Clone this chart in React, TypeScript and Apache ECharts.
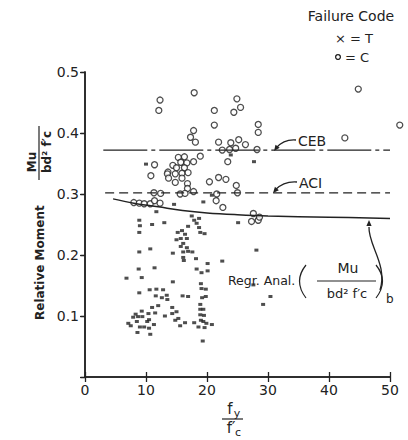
import React, { useEffect, useRef } from "react";
import * as echarts from "echarts";

// ---- data ----
const xTickValues = [0, 10, 20, 30, 40, 50];
const yTickLabels = ["0.1", "0.2", "0.3", "0.4", "0.5"];

// tension failures (T, small crosses)
const tensionPoints: [number, number][] = [
  [10.0, 0.349], [23.9, 0.364], [27.7, 0.353],
  [6.8, 0.162], [8.9, 0.257], [9.0, 0.248], [8.9, 0.237], [8.9, 0.205], [8.8, 0.177], [9.3, 0.163], [8.9, 0.138],
  [10.7, 0.210], [11.0, 0.250], [11.4, 0.179], [11.7, 0.271], [13.0, 0.253], [14.6, 0.283], [14.4, 0.203], [14.4, 0.156],
  [10.6, 0.143], [11.7, 0.144], [12.8, 0.143], [11.6, 0.133], [12.6, 0.130], [13.4, 0.134], [13.5, 0.127],
  [16.0, 0.133], [16.9, 0.132],
  [15.2, 0.237], [15.9, 0.240], [16.4, 0.234], [15.0, 0.225], [15.7, 0.227], [16.7, 0.227], [16.1, 0.219], [15.7, 0.214],
  [16.7, 0.212], [16.1, 0.205], [16.9, 0.206], [17.6, 0.205], [16.1, 0.196], [16.2, 0.191], [16.9, 0.247], [18.2, 0.194],
  [17.5, 0.264], [17.9, 0.257], [18.3, 0.252], [18.7, 0.260], [18.7, 0.245], [18.9, 0.237], [19.6, 0.235],
  [20.1, 0.186], [20.1, 0.174], [19.1, 0.171], [18.3, 0.177],
  [19.0, 0.153], [19.8, 0.144], [19.1, 0.145], [19.2, 0.130], [19.8, 0.132], [18.9, 0.119], [18.9, 0.111], [19.4, 0.111],
  [18.9, 0.102], [19.5, 0.101], [19.0, 0.093], [17.9, 0.089], [19.4, 0.091], [19.9, 0.088], [20.8, 0.086],
  [18.6, 0.082], [19.6, 0.081], [19.3, 0.059],
  [22.5, 0.190], [25.1, 0.253], [28.1, 0.208], [29.2, 0.119], [30.4, 0.132], [27.6, 0.151], [19.4, 0.287], [20.8, 0.298],
  [7.1, 0.088], [7.5, 0.084], [7.9, 0.098], [8.3, 0.103], [8.5, 0.091], [8.6, 0.073], [8.7, 0.099], [9.0, 0.082],
  [9.3, 0.108], [9.4, 0.099], [9.7, 0.082], [10.2, 0.091], [10.4, 0.104], [10.5, 0.094], [10.5, 0.080], [10.7, 0.070],
  [11.3, 0.086], [11.5, 0.105], [11.0, 0.114], [12.0, 0.117], [13.1, 0.100], [14.3, 0.114], [14.3, 0.104],
  [15.0, 0.107], [14.8, 0.093], [15.3, 0.096], [15.6, 0.084], [16.4, 0.089],
];

// compression failures (C, open circles)
const compressionPoints: [number, number][] = [
  [12.3, 0.454], [12.1, 0.437], [17.9, 0.466], [21.2, 0.437], [24.9, 0.456], [25.5, 0.442], [24.4, 0.434],
  [21.2, 0.413], [28.4, 0.414], [28.4, 0.401], [17.8, 0.404], [17.3, 0.393], [18.1, 0.385], [21.9, 0.385],
  [23.9, 0.384], [25.2, 0.389], [26.3, 0.381], [22.5, 0.372], [23.7, 0.373], [24.7, 0.375], [28.2, 0.373],
  [23.4, 0.353], [18.9, 0.362], [17.8, 0.353], [15.3, 0.360], [16.3, 0.361], [15.7, 0.352], [16.7, 0.351],
  [11.4, 0.348], [14.4, 0.347], [10.8, 0.330], [13.6, 0.336], [15.0, 0.343], [16.3, 0.343],
  [13.5, 0.333], [14.8, 0.333], [15.9, 0.334], [16.9, 0.335], [13.7, 0.326], [14.8, 0.319], [15.9, 0.326],
  [16.8, 0.317], [16.8, 0.309], [15.6, 0.300], [16.4, 0.301], [17.8, 0.304], [20.4, 0.320], [21.9, 0.327],
  [23.1, 0.324], [24.8, 0.314], [25.0, 0.302], [21.6, 0.300], [21.5, 0.289], [22.6, 0.278],
  [11.3, 0.302], [12.4, 0.301], [8.0, 0.286], [8.9, 0.285], [9.7, 0.284], [10.7, 0.284], [11.4, 0.289], [12.3, 0.285],
  [27.6, 0.268], [28.4, 0.257], [27.3, 0.255], [28.6, 0.262],
  [44.8, 0.472], [42.6, 0.392], [51.6, 0.413],
];

const cebLine: [number, number][] = [[3.0, 0.372], [50, 0.372]];
const aciLine: [number, number][] = [[3.3, 0.302], [50, 0.302]];
const regressionCurve: [number, number][] = [
  [4.6, 0.292], [8, 0.285], [12, 0.279], [16, 0.273], [20, 0.269], [25, 0.266], [30, 0.264], [40, 0.262], [50, 0.26],
];

const INK = "#222";
const FONT = "DejaVu Sans";

function arrowHead(tx: number, ty: number, fx: number, fy: number, len = 6, half = 2.6) {
  const dx = tx - fx, dy = ty - fy;
  const n = Math.hypot(dx, dy) || 1;
  const ux = dx / n, uy = dy / n;
  const bx = tx - ux * len, by = ty - uy * len;
  return {
    type: "polygon",
    shape: { points: [[tx, ty], [bx - uy * half, by + ux * half], [bx + uy * half, by - ux * half]] },
    style: { fill: INK },
    silent: true,
  };
}

function txt(x: number, y: number, text: string, size: number, align = "left", weight = "normal") {
  return {
    type: "text",
    x, y,
    silent: true,
    style: {
      text,
      font: `${weight} ${size}px ${FONT}`,
      fill: INK,
      textAlign: align,
      textVerticalAlign: "middle",
    },
  };
}

function curve(shape: any, width = 1.3) {
  return { type: "bezierCurve", shape, style: { stroke: INK, lineWidth: width, fill: null }, silent: true };
}

export default function App() {
  const ref = useRef<HTMLDivElement>(null);
  useEffect(() => {
    if (!ref.current) return;
    const chart = echarts.init(ref.current, null, { renderer: "svg" });
    const axisLine = { show: true, lineStyle: { color: INK, width: 1.5 } };
    const option: any = {
      animation: false,
      backgroundColor: "#fff",
      grid: { left: 85, right: 18, top: 72, bottom: 63 },
      xAxis: [
        {
          type: "value", min: xTickValues[0], max: xTickValues[xTickValues.length - 1], interval: 10, position: "bottom",
          axisLine, axisTick: { show: true, inside: true, length: 5, lineStyle: { color: INK, width: 1.3 } },
          axisLabel: { color: INK, fontSize: 14, fontFamily: FONT, margin: 6 },
          splitLine: { show: false },
        },
        {
          type: "value", min: 0, max: 50, interval: 10, position: "top",
          axisLine, axisTick: { show: true, inside: true, length: 5, lineStyle: { color: INK, width: 1.3 } },
          axisLabel: { show: false }, splitLine: { show: false },
        },
      ],
      yAxis: [
        {
          type: "value", min: 0, max: 0.5, interval: 0.1, position: "left",
          axisLine, axisTick: { show: true, inside: false, length: 4, lineStyle: { color: INK, width: 1.3 } },
          axisLabel: {
            color: INK, fontSize: 14, fontFamily: FONT, margin: 6,
            formatter: (v: number) => { const i = Math.round(v * 10) - 1; return i >= 0 ? yTickLabels[i] : ""; },
          },
          splitLine: { show: false },
        },
        {
          type: "value", min: 0, max: 0.5, interval: 0.1, position: "right",
          axisLine, axisTick: { show: true, inside: true, length: 5, lineStyle: { color: INK, width: 1.3 } },
          axisLabel: { show: false }, splitLine: { show: false },
        },
      ],
      series: [
        {
          type: "line", data: regressionCurve, smooth: 0.4, showSymbol: false, silent: true,
          lineStyle: { color: INK, width: 1.5 },
        },
        {
          type: "line", data: cebLine, showSymbol: false, silent: true,
          lineStyle: { color: INK, width: 1.3, type: [44, 4, 4, 4] },
        },
        {
          type: "line", data: aciLine, showSymbol: false, silent: true,
          lineStyle: { color: INK, width: 1.3, type: [9, 5] },
        },
        {
          type: "scatter", data: tensionPoints, symbol: "rect", symbolSize: [4, 3], clip: false,
          itemStyle: { color: INK },
        },
        {
          type: "scatter", data: compressionPoints, symbol: "circle", symbolSize: 6, clip: false,
          itemStyle: { color: "#fff", borderColor: INK, borderWidth: 1.3 },
        },
      ],
      graphic: [
        // legend
        txt(351, 16, "Failure Code", 14, "center"),
        txt(335, 38, "× = T", 13, "left"),
        { type: "circle", shape: { cx: 338, cy: 57, r: 2.4 }, style: { fill: "#fff", stroke: INK, lineWidth: 1.3 }, silent: true },
        txt(345, 57, "= C", 13, "left"),
        // CEB
        txt(298, 141, "CEB", 14, "left"),
        curve({ x1: 296, y1: 140, cpx1: 284, cpy1: 139, x2: 276, y2: 148 }),
        arrowHead(274, 151, 280, 143),
        // ACI
        txt(299, 183, "ACI", 14, "left"),
        curve({ x1: 297, y1: 182, cpx1: 284, cpy1: 181, x2: 275, y2: 190 }),
        arrowHead(273, 193, 279, 186),
        // Regression label
        txt(228, 280, "Regr. Anal.", 12.5, "left"),
        curve({ x1: 306, y1: 265, cpx1: 293, cpy1: 281, x2: 306, y2: 298 }, 1.2),
        txt(348, 268, "Mu", 14, "center"),
        { type: "line", shape: { x1: 317, y1: 281, x2: 376, y2: 281 }, style: { stroke: INK, lineWidth: 1.2 }, silent: true },
        txt(347, 293, "bd² f′c", 13, "center"),
        curve({ x1: 376, y1: 265, cpx1: 389, cpy1: 281, x2: 376, y2: 298 }, 1.2),
        txt(386, 299, "b", 12, "left"),
        { type: "bezierCurve", shape: { x1: 380, y1: 290, x2: 369, y2: 227, cpx1: 388, cpy1: 265, cpx2: 368, cpy2: 245 }, style: { stroke: INK, lineWidth: 1.3, fill: null }, silent: true },
        arrowHead(369, 220, 369, 230),
        // x axis title
        txt(230, 409, "f", 15, "center"),
        txt(237, 413, "y", 11, "center"),
        { type: "line", shape: { x1: 222, y1: 419, x2: 243, y2: 419 }, style: { stroke: INK, lineWidth: 1.2 }, silent: true },
        txt(231, 428, "f′", 15, "center"),
        txt(238, 432, "c", 11, "center"),
        // y axis title (rotated)
        {
          type: "group", x: 40, y: 320, rotation: Math.PI / 2, silent: true,
          children: [
            {
              type: "text", x: 0, y: 0,
              style: { text: "Relative Moment", font: `bold 12px ${FONT}`, fill: INK, textAlign: "left", textVerticalAlign: "middle" },
            },
            {
              type: "line", shape: { x1: 140, y1: -1, x2: 194, y2: -1 }, style: { stroke: INK, lineWidth: 1.2 },
            },
            {
              type: "text", x: 158, y: -8,
              style: { text: "Mu", font: `bold 12px ${FONT}`, fill: INK, textAlign: "center", textVerticalAlign: "middle" },
            },
            {
              type: "text", x: 168, y: 7,
              style: { text: "bd² f′c", font: `bold 12px ${FONT}`, fill: INK, textAlign: "center", textVerticalAlign: "middle" },
            },
          ],
        },
      ],
    };
    chart.setOption(option);
    return () => chart.dispose();
  }, []);
  return (
    <div
      ref={ref}
      style={{ position: "fixed", left: 0, top: 0, width: 408, height: 440, background: "#fff" }}
    />
  );
}
